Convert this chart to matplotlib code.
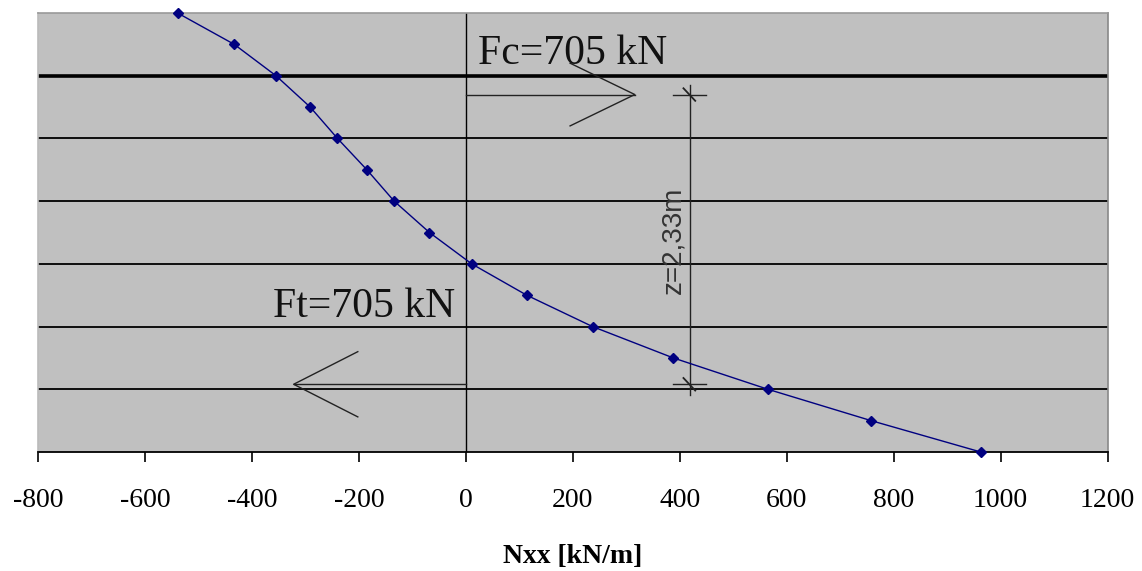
import numpy as np
import matplotlib
matplotlib.use("Agg")
import matplotlib.pyplot as plt

# section height [m] and normal force Nxx [kN/m]
height = [3.5, 3.25, 3.0, 2.75, 2.5, 2.25, 2.0, 1.75, 1.5, 1.25, 1.0, 0.75, 0.5, 0.25, 0.0]
nxx = [-539, -433, -355, -291, -240, -185, -134, -68, 11, 114, 237, 388, 565, 758, 963]

x_ticks = [-800, -600, -400, -200, 0, 200, 400, 600, 800, 1000, 1200]
grid_levels = [0.5, 1.0, 1.5, 2.0, 2.5, 3.0]

# resultant forces and lever arm
fc_label = "Fc=705 kN"
ft_label = "Ft=705 kN"
z_label = "z=2,33m"
fc_level = 2.85
ft_level = 0.54
fc_tip = 316
ft_tip = -322
z_pos = 419

fig = plt.figure(figsize=(11.42, 5.71), dpi=100)
ax = fig.add_axes([0.0333, 0.2084, 0.9365, 0.7688])
ax.set_facecolor("#c0c0c0")

ax.set_xlim(-800, 1200)
ax.set_ylim(0, 3.5)

for lvl in grid_levels:
    lw = 2.6 if lvl == 3.0 else 1.3
    ax.axhline(lvl, color="black", lw=lw, zorder=1)
ax.axvline(0, color="black", lw=1.0, zorder=1)

# curve
ax.plot(nxx, height, color="#000080", lw=1.0, marker="D", markersize=5,
        markerfacecolor="#000080", markeredgecolor="#000080", zorder=5, clip_on=False)

# compression arrow
ax.plot([0, fc_tip], [fc_level, fc_level], color="#222222", lw=1.0, zorder=3)
ax.plot([fc_tip - 121, fc_tip, fc_tip - 121], [fc_level + 0.25, fc_level, fc_level - 0.25],
        color="#222222", lw=1.0, zorder=3)
# tension arrow
ax.plot([0, ft_tip], [ft_level, ft_level], color="#222222", lw=1.0, zorder=3)
ax.plot([ft_tip + 120, ft_tip, ft_tip + 120], [ft_level + 0.26, ft_level, ft_level - 0.26],
        color="#222222", lw=1.0, zorder=3)

# lever arm dimension line
ax.plot([z_pos, z_pos], [ft_level - 0.085, fc_level + 0.08], color="#222222", lw=1.0, zorder=3)
for lvl in [fc_level, ft_level]:
    ax.plot([z_pos - 31, z_pos + 30], [lvl, lvl], color="#222222", lw=1.0, zorder=3)
    ax.plot([z_pos - 12, z_pos + 10], [lvl + 0.05, lvl - 0.05], color="#222222", lw=1.3, zorder=3)

ax.text(23, 3.094, fc_label, family="Liberation Serif", fontsize=30, color="#111111",
        ha="left", va="baseline", zorder=4)
ax.text(-20, 1.079, ft_label, family="Liberation Serif", fontsize=30, color="#111111",
        ha="right", va="baseline", zorder=4)
ax.text(z_pos - 6, 1.69, z_label, family="Liberation Sans",
        fontsize=20, color="#333333", rotation=90, ha="right", va="center", zorder=4)

ax.set_xticks(x_ticks)
ax.set_xticklabels([str(t) for t in x_ticks], family="Liberation Serif", fontsize=20)
ax.set_yticks([])
ax.tick_params(axis="x", direction="out", length=7, width=1.2, pad=19, colors="black")
ax.set_xlabel("Nxx [kN/m]", family="Liberation Serif", fontsize=20, fontweight="bold", labelpad=22)

ax.spines["bottom"].set_color("black")
ax.spines["bottom"].set_linewidth(1.3)
ax.spines["top"].set_color("#999999")
ax.spines["right"].set_color("#888888")
ax.spines["left"].set_color("#bbbbbb")
for s in ["top", "right", "left"]:
    ax.spines[s].set_linewidth(1.2)

fig.savefig("out.png", dpi=100, facecolor="white")
